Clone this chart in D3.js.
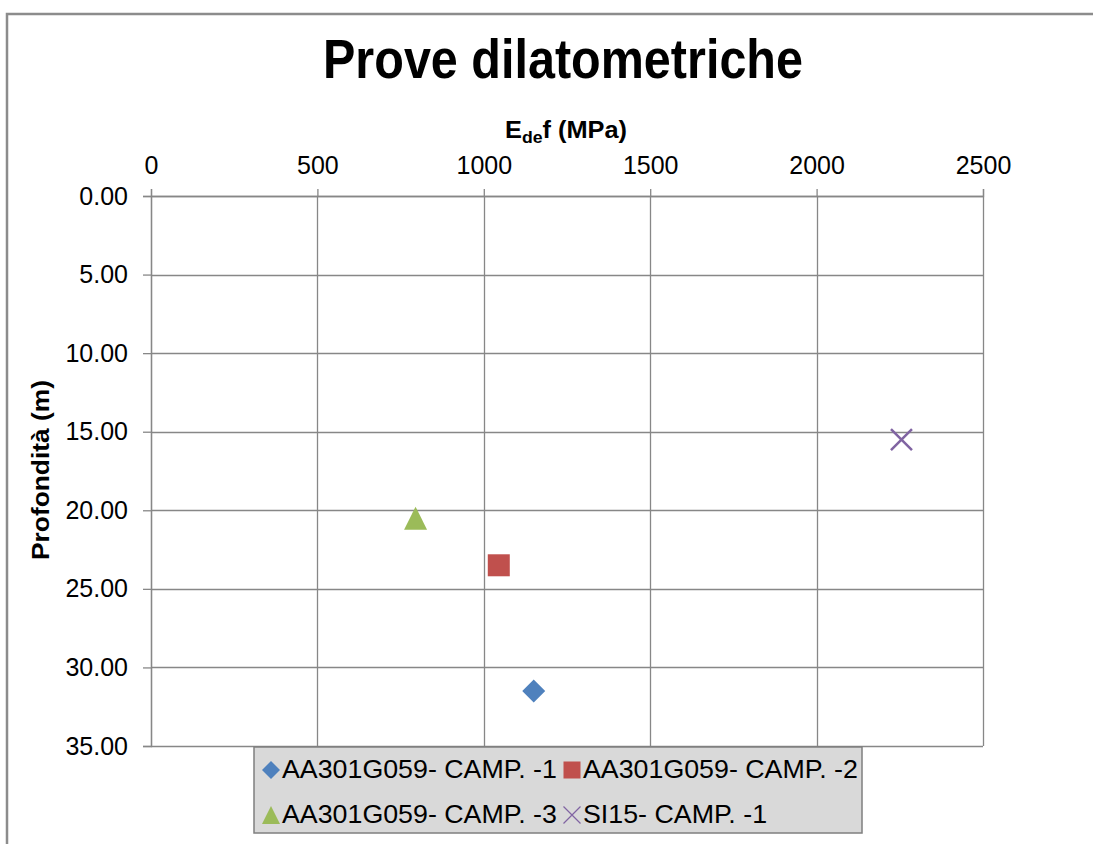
<!DOCTYPE html>
<html>
<head>
<meta charset="utf-8">
<script src="https://cdn.jsdelivr.net/npm/d3@7"></script>
<style>
  body { margin: 0; background: #fff; }
  text { font-family: "Liberation Sans", Arial, sans-serif; fill: #000; }
</style>
</head>
<body>
<div id="chart"></div>
<script>
// series: [E_def (MPa), depth (m)]
const seriesNames = ["AA301G059- CAMP. -1", "AA301G059- CAMP. -2", "AA301G059- CAMP. -3", "SI15- CAMP. -1"];
const edefValues = [1150, 1045, 795, 2255];
const depthValues = [31.5, 23.5, 20.5, 15.5];
const xTicks = [0, 500, 1000, 1500, 2000, 2500];
const yTicks = [0, 5, 10, 15, 20, 25, 30, 35];

const colours = ["#4f81bd", "#c0504d", "#9bbb59", "#8064a2"];
const shapes = ["diamond", "square", "triangle", "cross"];

const W = 1093, H = 844;
const margin = { top: 196, left: 151, right: 110, bottom: 98 };
const width = W - margin.left - margin.right;   // 832
const height = H - margin.top - margin.bottom;  // 550

const svg = d3.select("#chart").append("svg")
  .attr("width", W)
  .attr("height", H);

// outer chart frame (only top and left visible in the picture)
svg.append("path")
  .attr("d", `M7,${H} L7,14 L${W},14`)
  .attr("fill", "none")
  .attr("stroke", "#8c8c8c")
  .attr("stroke-width", 2.5);

// title
svg.append("text")
  .attr("x", 563)
  .attr("y", 78)
  .attr("text-anchor", "middle")
  .attr("font-size", 56)
  .attr("font-weight", "bold")
  .attr("textLength", 480)
  .attr("lengthAdjust", "spacingAndGlyphs")
  .text("Prove dilatometriche");

const chart = svg.append("g")
  .attr("transform", `translate(${margin.left},${margin.top})`);

const x = d3.scaleLinear().domain([0, 2500]).range([0, width]);
const y = d3.scaleLinear().domain([0, 35]).range([0, height]);

// gridlines
chart.append("g").selectAll("line.vgrid")
  .data(xTicks)
  .join("line")
  .attr("x1", d => Math.round(x(d)) + 0.5)
  .attr("x2", d => Math.round(x(d)) + 0.5)
  .attr("y1", 0)
  .attr("y2", height)
  .attr("stroke", "#878787")
  .attr("stroke-width", 1.3);

chart.append("g").selectAll("line.hgrid")
  .data(yTicks)
  .join("line")
  .attr("x1", 0)
  .attr("x2", width)
  .attr("y1", d => Math.round(y(d)) + 0.5)
  .attr("y2", d => Math.round(y(d)) + 0.5)
  .attr("stroke", "#878787")
  .attr("stroke-width", 1.3);

// axes
const xAxis = chart.append("g")
  .call(d3.axisTop(x).tickValues(xTicks).tickSize(7).tickPadding(15).tickFormat(d3.format("d")));
const yAxis = chart.append("g")
  .call(d3.axisLeft(y).tickValues(yTicks).tickSize(8).tickPadding(15).tickFormat(d3.format(".2f")));

[xAxis, yAxis].forEach(a => {
  a.select(".domain").attr("stroke", "#878787").attr("stroke-width", 1.3);
  a.selectAll(".tick line").attr("stroke", "#878787").attr("stroke-width", 1.3);
  a.selectAll(".tick text")
    .attr("font-size", 25)
    .attr("font-family", "Liberation Sans, Arial, sans-serif")
    .attr("fill", "#000");
});

// x axis title E_def (MPa)
const xTitle = svg.append("text")
  .attr("x", 566)
  .attr("y", 138)
  .attr("text-anchor", "middle")
  .attr("font-size", 23)
  .attr("font-weight", "bold");
xTitle.append("tspan").text("E");
xTitle.append("tspan").attr("font-size", 16).attr("dy", 5).text("de");
xTitle.append("tspan").attr("dy", -5).text("f (MPa)");
xTitle.attr("textLength", 122).attr("lengthAdjust", "spacingAndGlyphs");

// y axis title
svg.append("text")
  .attr("transform", `translate(49,${margin.top + height / 2 - 1}) rotate(-90)`)
  .attr("text-anchor", "middle")
  .attr("font-size", 23)
  .attr("font-weight", "bold")
  .attr("textLength", 180)
  .attr("lengthAdjust", "spacingAndGlyphs")
  .text("Profondità (m)");

// marker drawing
function drawMarker(g, shape, colour, size) {
  const s = size / 2;
  if (shape === "diamond") {
    g.append("path").attr("d", `M0,${-s} L${s},0 L0,${s} L${-s},0 Z`).attr("fill", colour);
  } else if (shape === "square") {
    g.append("rect").attr("x", -s).attr("y", -s).attr("width", size).attr("height", size).attr("fill", colour);
  } else if (shape === "triangle") {
    g.append("path").attr("d", `M0,${-s} L${s},${s} L${-s},${s} Z`).attr("fill", colour);
  } else {
    g.append("path").attr("d", `M${-s},${-s} L${s},${s} M${-s},${s} L${s},${-s}`)
      .attr("stroke", colour).attr("stroke-width", 2.5).attr("fill", "none");
  }
}

const points = seriesNames.map((name, i) => ({
  name, edef: edefValues[i], depth: depthValues[i], colour: colours[i], shape: shapes[i]
}));

const sizes = { diamond: 23, square: 22, triangle: 23, cross: 21 };
chart.selectAll("g.point")
  .data(points)
  .join("g")
  .attr("class", "point")
  .attr("transform", d => `translate(${x(d.edef)},${y(d.depth)})`)
  .each(function (d) { drawMarker(d3.select(this), d.shape, d.colour, sizes[d.shape]); });

// legend
const legend = svg.append("g").attr("transform", "translate(254,747)");
svg.append("clipPath").attr("id", "legclip")
  .append("rect").attr("x", 254).attr("y", 747).attr("width", 608).attr("height", 86);

legend.append("rect")
  .attr("width", 608)
  .attr("height", 86)
  .attr("fill", "#d9d9d9")
  .attr("stroke", "#7f7f7f")
  .attr("stroke-width", 1.5);

const legendPos = [[17, 23], [318, 23], [17, 68], [318, 68]];
const legendSizes = { diamond: 18, square: 17, triangle: 18, cross: 17 };
const items = svg.append("g").attr("clip-path", "url(#legclip)")
  .append("g").attr("transform", "translate(254,747)")
  .selectAll("g.item")
  .data(points)
  .join("g")
  .attr("class", "item")
  .attr("transform", (d, i) => `translate(${legendPos[i][0]},${legendPos[i][1]})`);

items.each(function (d) {
  const g = d3.select(this).append("g");
  drawMarker(g, d.shape, d.colour, legendSizes[d.shape]);
  if (d.shape === "cross") g.selectAll("path").attr("stroke-width", 1.2);
});

// legend labels are slightly wider in the original rendering
items.append("text")
  .attr("x", 11)
  .attr("y", 8)
  .attr("font-size", 25.5)
  .text(d => d.name)
  .each(function () {
    const len = this.getComputedTextLength();
    d3.select(this).attr("textLength", len * 1.05).attr("lengthAdjust", "spacingAndGlyphs");
  });
</script>
</body>
</html>
